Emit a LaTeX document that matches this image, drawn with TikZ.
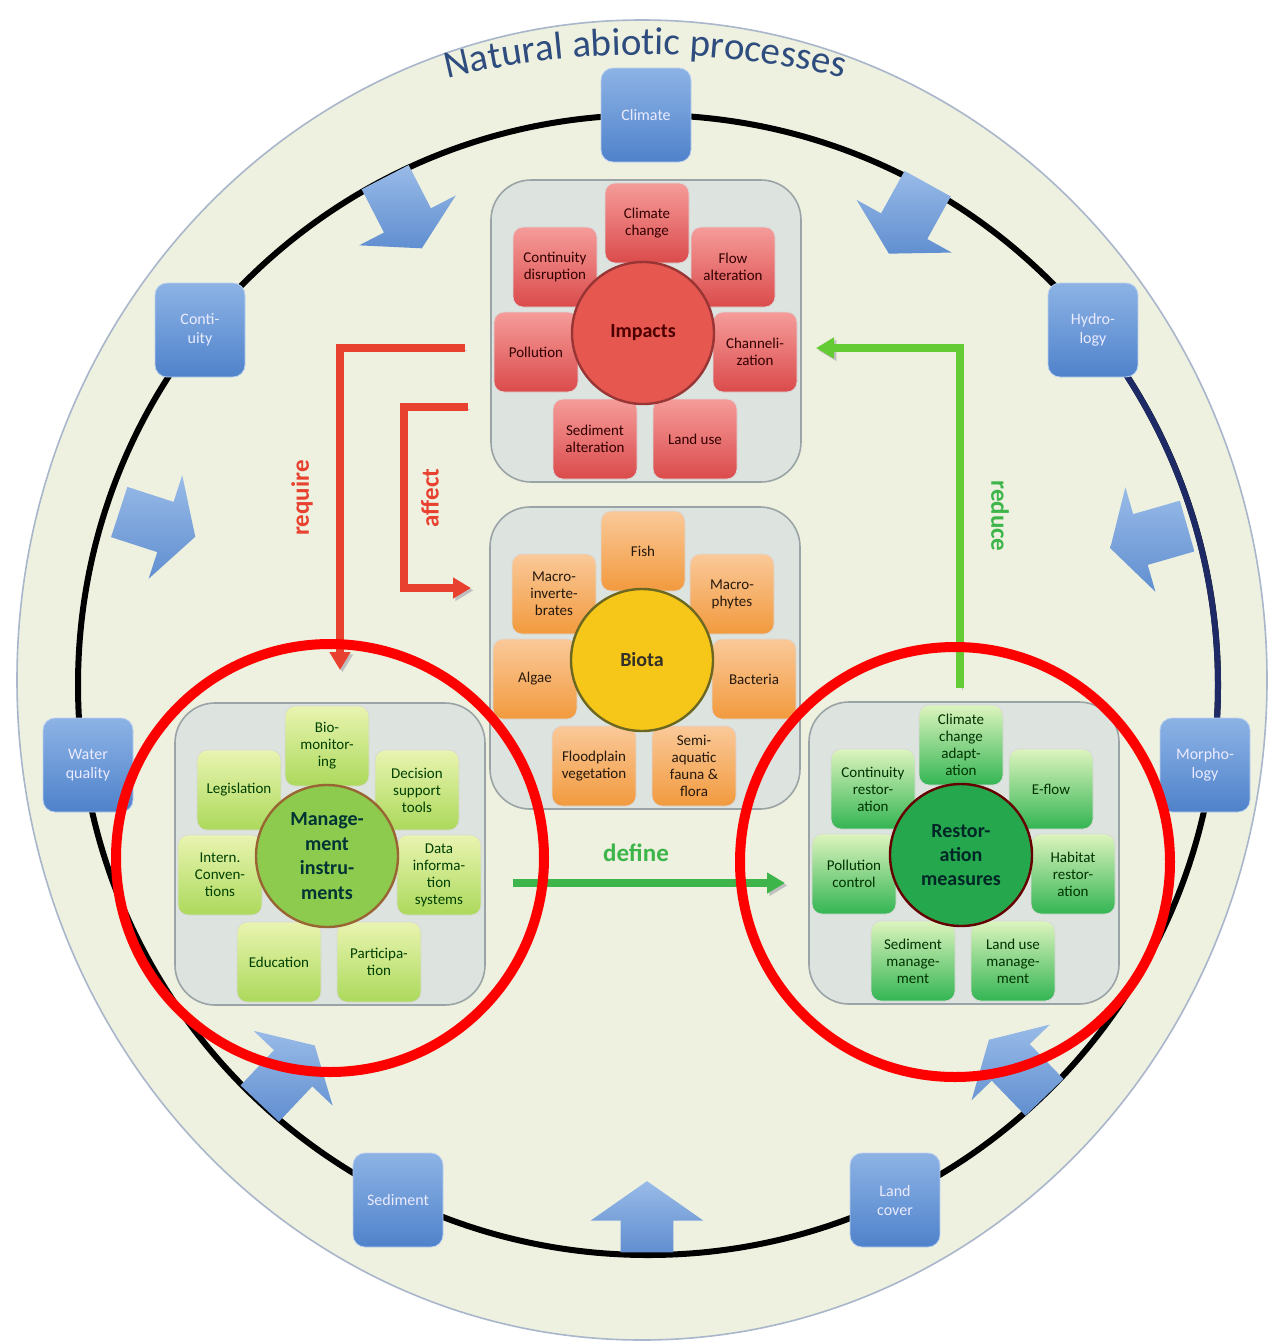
\documentclass[tikz,border=0pt]{standalone}
\usepackage{fontspec}
\setmainfont{Carlito}
\usepackage{tikz}
\usetikzlibrary{shapes.arrows,arrows.meta,decorations.text}

\definecolor{pagebeige}{HTML}{EEF1DF}
\definecolor{rimline}{HTML}{A9B6CB}
\definecolor{ringnavy}{HTML}{1E2A66}
\definecolor{procblueA}{HTML}{8DB3E5}
\definecolor{procblueB}{HTML}{4F82CB}
\definecolor{panelfill}{HTML}{DDE3DF}
\definecolor{panelline}{HTML}{9AA4A6}
\definecolor{impA}{HTML}{F59C9A}
\definecolor{impB}{HTML}{DB4B4B}
\definecolor{imphub}{HTML}{E5574F}
\definecolor{biotaA}{HTML}{FAC999}
\definecolor{biotaB}{HTML}{F29A3E}
\definecolor{biotahub}{HTML}{F6C619}
\definecolor{manA}{HTML}{E9F4B0}
\definecolor{manB}{HTML}{ACD95C}
\definecolor{manhub}{HTML}{8CCB4E}
\definecolor{resA}{HTML}{DDF4BE}
\definecolor{resB}{HTML}{33B553}
\definecolor{reshub}{HTML}{25A74E}
\definecolor{flowred}{HTML}{E8412F}
\definecolor{flowgreen}{HTML}{3DB54A}
\definecolor{titleblue}{HTML}{2E4C7E}

\tikzstyle{panel}=[draw=panelline, fill=panelfill, line width=0.8pt, rounded corners=20pt, minimum width=155pt, minimum height=151pt]
\tikzstyle{petal}=[rounded corners=5pt, minimum width=42pt, minimum height=40pt, inner sep=1pt, align=center, font=\fontsize{7.5}{8.5}\selectfont, draw=white!70!gray, line width=0.4pt]
\tikzstyle{hub}=[circle, minimum size=71pt, inner sep=0pt, align=center, line width=1.2pt, font=\bfseries\fontsize{10}{12.2}\selectfont]
\tikzstyle{process}=[rounded corners=6pt, minimum width=45pt, minimum height=47pt, align=center, top color=procblueA, bottom color=procblueB, draw=procblueA!60, text=white!92!blue, font=\fontsize{8}{9.5}\selectfont]
\tikzstyle{inflow}=[single arrow, draw=none, top color=procblueA!90, bottom color=procblueB!90, minimum height=40pt, inner sep=13pt, single arrow head extend=14pt, single arrow tip angle=120]
\tikzstyle{flow}=[line width=3.6pt, -{Triangle[length=9pt,width=10pt]}, preaction={draw=black!25, transform canvas={shift={(1.2pt,-1.2pt)}}}]
\tikzstyle{flowlabel}=[font=\bfseries\fontsize{12.5}{14}\selectfont]
\tikzstyle{highlight}=[draw=red, line width=5pt]

\begin{document}
\begin{tikzpicture}[x=0.5pt,y=-0.5pt]
  \useasboundingbox[fill=white] (0,0) rectangle (1271,1344);

  % outer field and ring
  \draw[rimline, fill=pagebeige, line width=0.8pt] (642,680) ellipse [x radius=625, y radius=660];
  \draw[line width=3pt] (648,685) circle [radius=570];
  \draw[ringnavy, line width=3pt] (648,685) ++(-38.6:570) arc [start angle=-38.6, end angle=8.2, radius=570];

  \path[decorate, decoration={text along path, text align=center,
    text={|\fontsize{19.5}{19.5}\selectfont\color{titleblue}|Natural abiotic processes}}]
    (395,93) .. controls (555,42) and (735,42) .. (895,93);

  % inflow arrows
  \node[inflow, rotate=-62.7] (intopleft) at (400,206) {};
  \node[inflow, rotate=-119] (intopright) at (912,212) {};
  \node[inflow, rotate=-18] (inleft) at (150,522) {};
  \node[inflow, rotate=196] (inright) at (1156,535) {};
  \node[inflow, rotate=46.6] (inbotleft) at (282,1080) {};
  \node[inflow, rotate=134] (inbotright) at (1022,1074) {};
  \node[inflow, rotate=90, minimum height=33pt, single arrow head extend=15pt, single arrow tip angle=110] (inbottom) at (647,1226) {};

  % abiotic processes
  \node[process] (climate) at (646,115) {Climate};
  \node[process] (continuity) at (200,330) {Conti-\\uity};
  \node[process] (hydrology) at (1093,330) {Hydro-\\logy};
  \node[process] (waterquality) at (88,765) {Water\\quality};
  \node[process] (morphology) at (1205,765) {Morpho-\\logy};
  \node[process] (sediment) at (398,1200) {Sediment};
  \node[process] (landcover) at (895,1200) {Land\\cover};

  % impacts
  \node[panel] (imppanel) at (646,331) {};
  \tikzstyle{impbox}=[petal, top color=impA, bottom color=impB, text=black!80!red]
  \node[impbox] (impclimate) at (647,223) {Climate\\change};
  \node[impbox] (impcont) at (555,267) {Continuity\\disruption};
  \node[impbox] (impflow) at (733,267) {Flow\\alteration};
  \node[impbox] (imppoll) at (536,352) {Pollution};
  \node[impbox] (impchan) at (755,352) {Channeli-\\zation};
  \node[impbox] (impsed) at (595,439) {Sediment\\alteration};
  \node[impbox] (impland) at (695,439) {Land use};
  \node[hub, fill=imphub, draw=impB!70!black, text=black!70!red] (impacts) at (643,333) {Impacts};

  % biota
  \node[panel] (biopanel) at (645,658) {};
  \tikzstyle{biobox}=[petal, top color=biotaA, bottom color=biotaB, text=black!80!brown]
  \node[biobox] (biofish) at (643,551) {Fish};
  \node[biobox] (bioinvert) at (554,594) {Macro-\\inverte-\\brates};
  \node[biobox] (biophytes) at (732,594) {Macro-\\phytes};
  \node[biobox] (bioalgae) at (535,679) {Algae};
  \node[biobox] (biobact) at (754,679) {Bacteria};
  \node[biobox] (bioflood) at (594,766) {Floodplain\\vegetation};
  \node[biobox] (biosemi) at (694,766) {Semi-\\aquatic\\fauna \&\\flora};
  \node[hub, fill=biotahub, draw=olive!70!black, text=black!85!olive] (biota) at (642,660) {Biota};

  % management instruments
  \node[panel] (manpanel) at (330,854) {};
  \tikzstyle{manbox}=[petal, top color=manA, bottom color=manB, text=black!75!green]
  \node[manbox] (manbio) at (327,746) {Bio-\\monitor-\\ing};
  \node[manbox] (manlegis) at (239,790) {Legislation};
  \node[manbox] (mandecis) at (417,790) {Decision\\support\\tools};
  \node[manbox] (manconv) at (220,875) {Intern.\\Conven-\\tions};
  \node[manbox] (mandata) at (439,875) {Data\\informa-\\tion\\systems};
  \node[manbox] (manedu) at (279,962) {Education};
  \node[manbox] (manpart) at (379,962) {Participa-\\tion};
  \node[hub, fill=manhub, draw=brown!80!black, text=teal!40!black] (management) at (327,856) {Manage-\\ment\\instru-\\ments};

  % restoration measures
  \node[panel] (respanel) at (964,853) {};
  \tikzstyle{resbox}=[petal, top color=resA, bottom color=resB, text=black!80!green]
  \node[resbox] (resclim) at (961,745) {Climate\\change\\adapt-\\ation};
  \node[resbox] (rescont) at (873,789) {Continuity\\restor-\\ation};
  \node[resbox] (resflow) at (1051,789) {E-flow};
  \node[resbox] (respoll) at (854,874) {Pollution\\control};
  \node[resbox] (reshab) at (1073,874) {Habitat\\restor-\\ation};
  \node[resbox] (ressed) at (913,961) {Sediment\\manage-\\ment};
  \node[resbox] (resland) at (1013,961) {Land use\\manage-\\ment};
  \node[hub, fill=reshub, draw=red!40!black, text=teal!30!black] (restoration) at (961,855) {Restor-\\ation\\measures};

  % relations
  \coordinate (reqstart) at (465,348);
  \coordinate (reqend) at (340,670);
  \coordinate (affstart) at (468,407);
  \coordinate (affbend) at (404,500);
  \coordinate (affend) at (471,588);
  \coordinate (redstart) at (960,688);
  \coordinate (redend) at (816,348);
  \coordinate (defstart) at (513,883);
  \coordinate (defend) at (785,883);
  \draw[flow, flowred] (reqstart) -| (reqend);
  \draw[flow, flowred] (affstart) -| (affbend) |- (affend);
  \draw[flow, flowgreen!70!lime] (redstart) |- (redend);
  \draw[flow, flowgreen] (defstart) -- (defend);
  \node[flowlabel, text=flowred, rotate=90] (requirelabel) at (302,498) {require};
  \node[flowlabel, text=flowred, rotate=90] (affectlabel) at (430,498) {affect};
  \node[flowlabel, text=flowgreen, rotate=-90] (reducelabel) at (1000,516) {reduce};
  \node[flowlabel, text=flowgreen] (definelabel) at (636,853) {define};

  % highlights
  \draw[highlight] (330,858) circle [radius=214];
  \draw[highlight] (955,862) circle [radius=215];
\end{tikzpicture}
\end{document}
